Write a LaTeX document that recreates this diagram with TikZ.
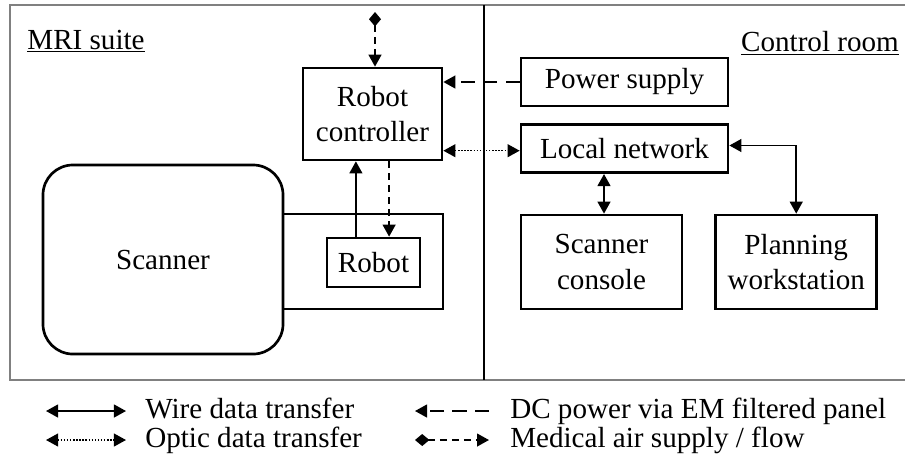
\documentclass[tikz,border=0pt]{standalone}
\usepackage{fontspec}
\setmainfont{Liberation Serif}
\usetikzlibrary{arrows.meta,positioning}

\begin{document}
\begin{tikzpicture}[
  x=0.025cm, y=-0.025cm,
  every node/.style={font=\fontsize{20.7}{25.5}\selectfont},
  blk/.style={draw, line width=1.9pt, inner sep=0pt, align=center},
  legtext/.style={anchor=base west, inner sep=0pt, text height=15pt, text depth=3pt},
  wire/.style={line width=1.3pt, {Triangle[length=0.3cm, width=0.32cm]}-{Triangle[length=0.3cm, width=0.32cm]}},
  optic/.style={line width=1pt, dash pattern=on 1pt off 1.2pt,
                {Triangle[length=0.3cm, width=0.32cm]}-{Triangle[length=0.3cm, width=0.32cm]}},
  dcpow/.style={line width=1.3pt, dash pattern=on 10pt off 6pt, -{Triangle[length=0.3cm, width=0.32cm]}},
  airflow/.style={line width=1.3pt, dash pattern=on 5pt off 3.5pt,
                  {Diamond[length=0.36cm, width=0.3cm]}-{Triangle[length=0.3cm, width=0.32cm]}}]
  \useasboundingbox (0,0) rectangle (905,470);
  % rooms
  \draw[gray, line width=1.4pt] (915,5) -- (10,5) -- (10,380) -- (915,380);
  \draw[line width=1pt] (484,5) -- (484,380);
  \node (suite) at (86,41) {\underline{MRI suite}};
  \node (room) at (820,43) {\underline{Control room}};
  % MRI suite
  \node[blk, rounded corners=0.75cm, minimum width=6cm, minimum height=4.725cm] (scanner) at (163,259.5) {Scanner};
  \node[blk, minimum width=4cm, minimum height=2.375cm] (bore) at (363,261.5) {};
  \node[blk, minimum width=2.325cm, minimum height=1.225cm] (robot) at (373.5,262.5) {Robot};
  \node[blk, minimum width=3.475cm, minimum height=2.3cm] (ctrl) at (372.5,114) {Robot\\controller};
  \coordinate (air) at (375,12);
  % control room
  \node[blk, minimum width=5.175cm, minimum height=1.2cm] (power) at (624.5,82) {Power supply};
  \node[blk, minimum width=5.175cm, minimum height=1.2cm, below=0.4cm of power] (lan) {Local network};
  \node[blk, minimum width=4.025cm, minimum height=2.35cm] (console) at (601.5,262) {Scanner\\console};
  \node[blk, minimum width=4.025cm, minimum height=2.35cm, right=0.775cm of console] (plan) {Planning\\workstation};
  % links
  \draw[airflow] (air) -- (air |- ctrl.north);
  \draw[dcpow] (power.west) -- (power.west -| ctrl.east);
  \draw[optic] ([yshift=-0.05cm]ctrl.east |- lan.west) -- ([yshift=-0.05cm]lan.west);
  \draw[line width=1.3pt, -{Triangle[length=0.3cm, width=0.32cm]}] ([xshift=-0.44cm]robot.north) -- ([xshift=-0.44cm]robot.north |- ctrl.south);
  \draw[line width=1.3pt, dash pattern=on 5pt off 3.5pt, -{Triangle[length=0.3cm, width=0.32cm]}] ([xshift=0.39cm]robot.north |- ctrl.south) -- ([xshift=0.39cm]robot.north);
  \draw[wire] (console.north -| 604,0) -- (604,0 |- lan.south);
  \draw[wire] ([yshift=0.08cm]lan.east) -| (plan.north);
  % legend
  \coordinate (lw1) at (46,411);  \coordinate (lw2) at (126,411);
  \coordinate (lo1) at (46,440);  \coordinate (lo2) at (126,440);
  \coordinate (ld1) at (415,411); \coordinate (ld2) at (489,411);
  \coordinate (la1) at (415,440); \coordinate (la2) at (489,440);
  \draw[wire] (lw1) -- (lw2);
  \draw[optic] (lo1) -- (lo2);
  \draw[dcpow] (ld2) -- (ld1);
  \draw[airflow] (la1) -- (la2);
  \node[legtext] (tw) at (145,418) {Wire data transfer};
  \node[legtext] (to) at (145,447) {Optic data transfer};
  \node[legtext] (td) at (510,418) {DC power via EM filtered panel};
  \node[legtext] (ta) at (510,447) {Medical air supply / flow};
\end{tikzpicture}
\end{document}
